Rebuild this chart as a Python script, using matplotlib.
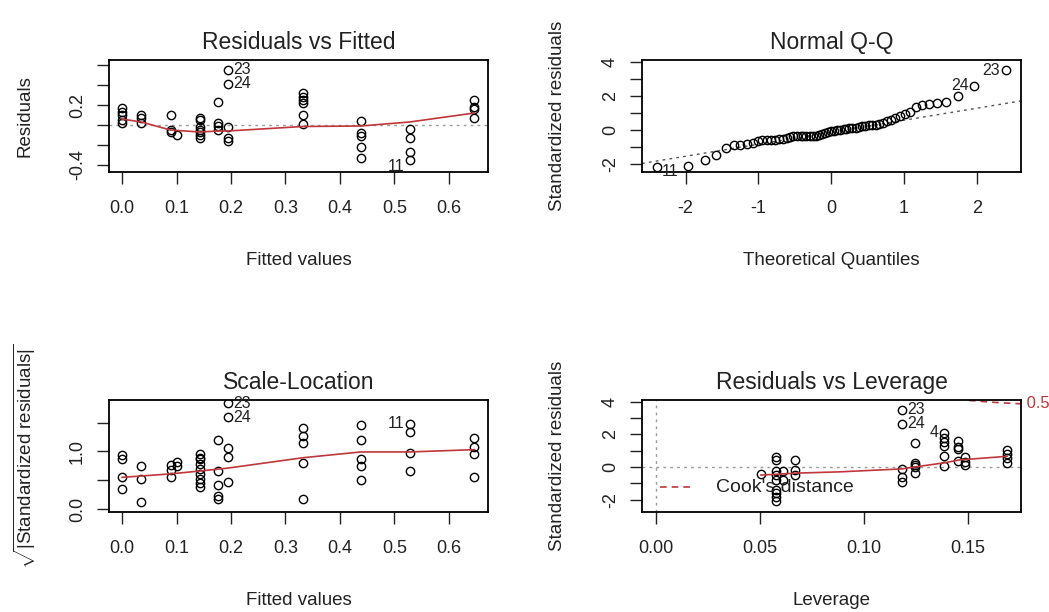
import matplotlib
matplotlib.use("Agg")
import matplotlib.pyplot as plt

plt.rcParams['font.family'] = ['Liberation Sans', 'DejaVu Sans']
plt.rcParams['mathtext.fontset'] = 'custom'
plt.rcParams['mathtext.rm'] = 'Liberation Sans'
plt.rcParams['mathtext.it'] = 'Liberation Sans'

# Residuals vs Fitted
rvf_fitted = [0.0] * 5 + [0.035] * 3 + [0.089] * 3 + [0.101] + [0.143] * 7 + [0.176] * 4 \
    + [0.194] * 5 + [0.332] * 6 + [0.438] * 5 + [0.528] * 4 + [0.647] * 4
rvf_resid = [0.17, 0.13, 0.10, 0.05, 0.02,
             0.10, 0.07, 0.02,
             0.10, -0.05, -0.07,
             -0.10,
             0.07, 0.05, -0.02, -0.05, -0.07, -0.10, -0.13,
             0.23, 0.02, -0.01, -0.05,
             0.55, 0.41, -0.02, -0.13, -0.16,
             0.32, 0.28, 0.25, 0.22, 0.10, 0.01,
             0.04, -0.08, -0.11, -0.22, -0.33,
             -0.04, -0.13, -0.27, -0.35,
             0.25, 0.18, 0.16, 0.07]
rvf_smooth_x = [0.0, 0.035, 0.089, 0.143, 0.176, 0.194, 0.332, 0.438, 0.528, 0.647]
rvf_smooth_y = [0.06, 0.03, -0.05, -0.07, -0.06, -0.06, -0.015, -0.01, 0.03, 0.12]

# Normal Q-Q
qq_theory = [-2.40, -1.97, -1.74, -1.58, -1.45, -1.34, -1.25, -1.16, -1.08, -1.01,
             -0.95, -0.88, -0.82, -0.77, -0.71, -0.66, -0.61, -0.56, -0.52, -0.47,
             -0.42, -0.38, -0.34, -0.29, -0.25, -0.21, -0.17, -0.12, -0.08, -0.04,
             0.00, 0.04, 0.08, 0.12, 0.17, 0.21, 0.25, 0.29, 0.34, 0.38,
             0.42, 0.47, 0.52, 0.56, 0.61, 0.66, 0.71, 0.77, 0.82, 0.88,
             0.95, 1.01, 1.08, 1.16, 1.25, 1.34, 1.45, 1.58, 1.74, 1.97, 2.40]
qq_sample = [-2.15, -2.10, -1.75, -1.45, -1.05, -0.87, -0.86, -0.84, -0.75, -0.62,
             -0.58, -0.57, -0.57, -0.56, -0.52, -0.50, -0.47, -0.40, -0.37, -0.36,
             -0.35, -0.35, -0.34, -0.34, -0.33, -0.32, -0.28, -0.22, -0.15, -0.10,
             -0.08, -0.05, -0.02, 0.02, 0.05, 0.08, 0.10, 0.12, 0.15, 0.18,
             0.22, 0.25, 0.28, 0.30, 0.32, 0.35, 0.42, 0.55, 0.62, 0.72,
             0.85, 0.95, 1.05, 1.35, 1.45, 1.55, 1.57, 1.63, 1.98, 2.60, 3.50]
qq_line_x = [-2.6, 2.6]
qq_line_y = [-1.95, 1.70]

# Scale-Location
sl_fitted = [0.0] * 4 + [0.035] * 3 + [0.089] * 3 + [0.101] * 2 + [0.143] * 9 + [0.176] * 5 \
    + [0.194] * 5 + [0.332] * 5 + [0.438] * 5 + [0.528] * 4 + [0.647] * 4
sl_sqrt = [0.94, 0.86, 0.56, 0.35,
           0.75, 0.52, 0.12,
           0.77, 0.68, 0.56,
           0.82, 0.75,
           0.96, 0.89, 0.86, 0.79, 0.70, 0.61, 0.52, 0.45, 0.38,
           1.19, 0.66, 0.42, 0.23, 0.17,
           1.83, 1.59, 1.05, 0.91, 0.47,
           1.40, 1.27, 1.15, 0.80, 0.17,
           1.45, 1.20, 0.86, 0.75, 0.51,
           1.48, 1.33, 0.98, 0.66,
           1.24, 1.07, 0.96, 0.56]
sl_smooth_x = [0.0, 0.089, 0.143, 0.194, 0.332, 0.438, 0.528, 0.647]
sl_smooth_y = [0.55, 0.61, 0.66, 0.71, 0.89, 0.99, 0.99, 1.03]

# Residuals vs Leverage
lev = [0.0505] + [0.0577] * 9 + [0.061] * 2 + [0.067] * 3 + [0.1183] * 5 + [0.1245] * 5 \
    + [0.1385] * 6 + [0.145] * 4 + [0.1485] * 3 + [0.1688] * 4
lev_std = [-0.45,
           0.6, 0.4, -0.25, -0.5, -0.8, -1.4, -1.6, -1.85, -2.1,
           -0.25, -0.8,
           0.43, -0.2, -0.5,
           3.5, 2.65, -0.1, -0.6, -0.9,
           1.45, 0.25, 0.1, 0.0, -0.35,
           2.1, 1.8, 1.55, 1.3, 0.7, 0.05,
           1.6, 1.25, 1.1, 0.35,
           0.6, 0.3, 0.1,
           1.05, 0.8, 0.55, 0.25]
lev_smooth_x = [0.0505, 0.0577, 0.067, 0.0885, 0.1183, 0.1245, 0.1385, 0.146, 0.1688]
lev_smooth_y = [-0.5, -0.45, -0.38, -0.3, -0.12, 0.0, 0.25, 0.43, 0.65]
cook_x = [0.145, 0.150, 0.162, 0.176]
cook_y = [4.25, 4.08, 3.96, 3.86]

W, H = 1049, 612
RED = '#c0363a'
GREY = '#9a9a9a'
INK = '#222222'

fig = plt.figure(figsize=(W / 100, H / 100), dpi=100)


def make_axes(left, top):
    ax = fig.add_axes([left / W, 1 - (top + 112) / H, 379 / W, 112 / H])
    for s in ax.spines.values():
        s.set_linewidth(1.3)
    ax.tick_params(direction='out', length=8.5, width=1.0, labelsize=13, colors=INK)
    ax.tick_params(axis='x', pad=12)
    ax.tick_params(axis='y', pad=8, labelrotation=90)
    return ax


def dress(ax, title, xlabel, ylabel):
    ax.text(0.5, 1.16, title, transform=ax.transAxes, ha='center', va='center',
            fontsize=16.5, color=INK)
    ax.set_xlabel(xlabel, fontsize=13.5, color=INK, va='center')
    ax.set_ylabel(ylabel, fontsize=13.5, color=INK, va='center')
    ax.xaxis.set_label_coords(0.5, -0.786)
    ax.yaxis.set_label_coords(-0.222, 0.5)
    for t in ax.get_yticklabels():
        t.set_va('center')


def pts(ax, x, y):
    ax.plot(x, y, 'o', mfc='none', mec='black', ms=6, mew=1.0)


def tag(ax, x, y, s, side, dy=0):
    dx = 4 if side == 'right' else -4
    ax.annotate(s, (x, y), xytext=(dx, dy), textcoords='offset points',
                ha='left' if side == 'right' else 'right', va='center',
                fontsize=11.5, color=INK, annotation_clip=False)


# Panel 1
ax1 = make_axes(109, 60)
ax1.axhline(0, color=GREY, lw=1, ls=(0, (2, 3)))
pts(ax1, rvf_fitted, rvf_resid)
ax1.plot(rvf_smooth_x, rvf_smooth_y, color=RED, lw=1.2)
ax1.set_xlim(-0.024, 0.672)
ax1.set_ylim(-0.47, 0.65)
ax1.set_xticks([0.0, 0.1, 0.2, 0.3, 0.4, 0.5, 0.6])
ax1.set_xticklabels(['0.0', '0.1', '0.2', '0.3', '0.4', '0.5', '0.6'])
ax1.set_yticks([-0.4, -0.2, 0.0, 0.2, 0.4, 0.6])
ax1.set_yticklabels(['-0.4', '', '', '0.2', '', ''])
tag(ax1, 0.194, 0.55, '23', 'right')
tag(ax1, 0.194, 0.41, '24', 'right')
tag(ax1, 0.528, -0.35, '11', 'left', dy=-5)
dress(ax1, 'Residuals vs Fitted', 'Fitted values', 'Residuals')

# Panel 2
ax2 = make_axes(642, 60)
ax2.plot(qq_line_x, qq_line_y, color='#555555', lw=1, ls=(0, (2, 3)))
pts(ax2, qq_theory, qq_sample)
ax2.set_xlim(-2.6, 2.61)
ax2.set_ylim(-2.45, 4.1)
ax2.set_xticks([-2, -1, 0, 1, 2])
ax2.set_xticklabels(['-2', '-1', '0', '1', '2'])
ax2.set_yticks([-2, -1, 0, 1, 2, 3, 4])
ax2.set_yticklabels(['-2', '', '0', '', '2', '', '4'])
tag(ax2, 2.40, 3.50, '23', 'left')
tag(ax2, 1.97, 2.60, '24', 'left')
tag(ax2, -2.40, -2.15, '11', 'right', dy=-3)
dress(ax2, 'Normal Q-Q', 'Theoretical Quantiles', 'Standardized residuals')

# Panel 3
ax3 = make_axes(109, 400)
pts(ax3, sl_fitted, sl_sqrt)
ax3.plot(sl_smooth_x, sl_smooth_y, color=RED, lw=1.2)
ax3.set_xlim(-0.024, 0.672)
ax3.set_ylim(-0.05, 1.89)
ax3.set_xticks([0.0, 0.1, 0.2, 0.3, 0.4, 0.5, 0.6])
ax3.set_xticklabels(['0.0', '0.1', '0.2', '0.3', '0.4', '0.5', '0.6'])
ax3.set_yticks([0.0, 0.5, 1.0, 1.5])
ax3.set_yticklabels(['0.0', '', '1.0', ''])
tag(ax3, 0.194, 1.83, '23', 'right')
tag(ax3, 0.194, 1.59, '24', 'right')
tag(ax3, 0.528, 1.48, '11', 'left')
dress(ax3, 'Scale-Location', 'Fitted values',
      r'$\sqrt{|\mathrm{Standardized\ residuals}|}$')

# Panel 4
ax4 = make_axes(642, 400)
ax4.axhline(0, color=GREY, lw=1, ls=(0, (2, 3)))
ax4.axvline(0, color=GREY, lw=1, ls=(0, (2, 3)))
pts(ax4, lev, lev_std)
ax4.plot(lev_smooth_x, lev_smooth_y, color=RED, lw=1.2)
ax4.plot(cook_x, cook_y, color=RED, lw=1.2, ls=(0, (4, 3)))
ax4.set_xlim(-0.0067, 0.1755)
ax4.set_ylim(-2.76, 4.1)
ax4.set_xticks([0.0, 0.05, 0.10, 0.15])
ax4.set_xticklabels(['0.00', '0.05', '0.10', '0.15'])
ax4.set_yticks([-2, -1, 0, 1, 2, 3, 4])
ax4.set_yticklabels(['-2', '', '0', '', '2', '', '4'])
tag(ax4, 0.1183, 3.5, '23', 'right')
tag(ax4, 0.1183, 2.65, '24', 'right')
tag(ax4, 0.1385, 2.1, '4', 'left')
ax4.text(cook_x[-1], cook_y[-1], ' 0.5', color=RED, fontsize=12, ha='left', va='center',
         clip_on=False, transform=ax4.transData)
# legend drawn by hand, like R's legend() box without a frame
ax4.plot([0.047, 0.132], [0.223, 0.223], color=RED, lw=1.2, ls=(0, (4, 3)),
         transform=ax4.transAxes)
ax4.text(0.195, 0.223, "Cook's distance", transform=ax4.transAxes, ha='left',
         va='center', fontsize=14, color=INK)
dress(ax4, 'Residuals vs Leverage', 'Leverage', 'Standardized residuals')

fig.savefig('out.png', dpi=100, facecolor='white')
